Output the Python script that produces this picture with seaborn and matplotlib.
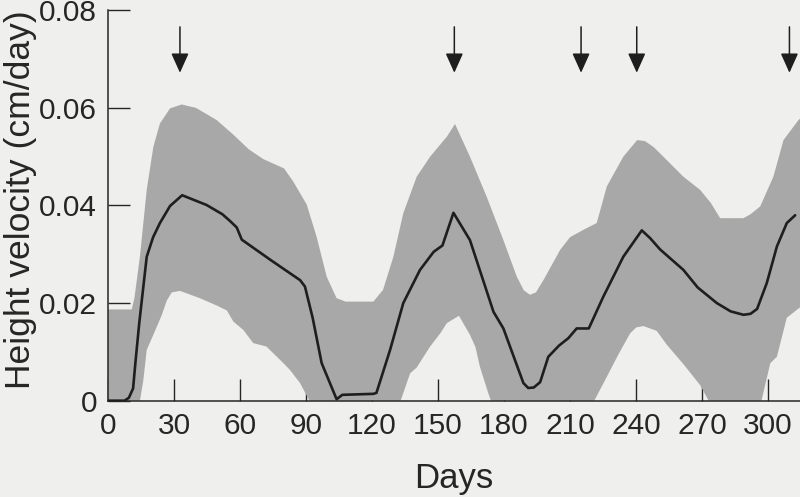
import numpy as np
import pandas as pd
import matplotlib
matplotlib.use("Agg")
import matplotlib.pyplot as plt
import seaborn as sns

# ---- data ----
mean_days = [0, 7.5, 9.5, 11.4, 12.5, 14.2, 17.6, 20.5, 23.6, 28.2, 33.7, 44.8, 52, 55.5,
             58.5, 60.8, 74, 87.3, 89.5, 93, 97.1, 103.9, 106.5, 120.6, 122, 128.2, 134.2,
             141.8, 148, 152, 157, 164.5, 175.2, 179.7, 184, 188.8, 191, 193.5, 196.4,
             200.1, 205, 209.2, 213, 218.5, 225.1, 234.2, 242.6, 246.4, 250.9, 261.5,
             268, 276.7, 283, 288.8, 292, 295, 299.4, 304, 308.5, 312.3]
mean_velocity = [0, 0, 0.0006, 0.0025, 0.008, 0.0159, 0.0295, 0.0335, 0.0364, 0.0399, 0.0421,
                 0.0401, 0.0382, 0.0368, 0.0355, 0.033, 0.0288, 0.0247, 0.0234, 0.017,
                 0.0077, 0.0003, 0.0012, 0.0014, 0.0016, 0.0104, 0.02, 0.0268, 0.0305,
                 0.0318, 0.0385, 0.0329, 0.0182, 0.0148, 0.0095, 0.0036, 0.0026, 0.0027,
                 0.0038, 0.009, 0.0113, 0.0128, 0.0148, 0.0148, 0.0213, 0.0295, 0.0349,
                 0.0333, 0.031, 0.0268, 0.0232, 0.02, 0.0183, 0.0176, 0.0178, 0.0188,
                 0.0241, 0.0316, 0.0364, 0.038]

upper_days = [0, 10.8, 12, 14.5, 17.6, 20.6, 23.6, 28.2, 33.5, 40, 49.4, 57, 64, 70.6, 77,
              80, 84.2, 90.3, 94.8, 99.4, 103.9, 108, 120.6, 125, 129.7, 134.2, 140.3,
              146.4, 154, 157.7, 164.5, 172.1, 179.7, 185.8, 189, 191.8, 194.5, 197.9,
              205.5, 210, 216, 222.1, 226.7, 234.2, 240.5, 244, 247.9, 252.4, 261.5,
              269.1, 274, 278.2, 288.8, 292, 296.4, 302.4, 307, 313.8, 315]
upper_velocity = [0.0187, 0.0187, 0.021, 0.0295, 0.0432, 0.052, 0.0568, 0.0599, 0.0607, 0.06,
                  0.0575, 0.0545, 0.0515, 0.0495, 0.0482, 0.0476, 0.0449, 0.0402, 0.0336,
                  0.0254, 0.021, 0.0203, 0.0203, 0.0227, 0.0295, 0.0384, 0.0459, 0.05,
                  0.0541, 0.0567, 0.05, 0.0418, 0.0329, 0.0254, 0.0226, 0.0217, 0.0222,
                  0.0247, 0.0309, 0.0335, 0.035, 0.0364, 0.0439, 0.05, 0.0534, 0.0532,
                  0.052, 0.05, 0.0459, 0.0432, 0.0405, 0.0374, 0.0374, 0.0382, 0.0398,
                  0.0459, 0.0534, 0.0575, 0.058]

lower_days = [0, 14.5, 16, 17.6, 20.6, 24.4, 26.7, 29, 32.7, 41.8, 49.4, 54, 57, 61.5, 66,
              72, 79.7, 82.7, 87.3, 91.5, 133, 137.3, 140.3, 146.4, 151, 154, 159.5, 164.5,
              167, 169, 172.5, 174, 221, 226.7, 232, 237.3, 240, 243.3, 246.4, 249.4,
              253.9, 261.5, 269.1, 273, 297, 301, 304, 308.5, 315]
lower_velocity = [0, 0, 0.004, 0.0104, 0.0135, 0.0175, 0.0205, 0.0222, 0.0225, 0.021, 0.0195,
                  0.0185, 0.0162, 0.0145, 0.0118, 0.0111, 0.0077, 0.0063, 0.0036, 0, 0,
                  0.0056, 0.0068, 0.0111, 0.0138, 0.0159, 0.0174, 0.0135, 0.011, 0.007,
                  0.002, 0, 0, 0.0049, 0.0095, 0.0138, 0.015, 0.0153, 0.0148, 0.0143,
                  0.0115, 0.0075, 0.0032, 0, 0, 0.0077, 0.009, 0.017, 0.0193]

arrow_days = [32.7, 157.4, 215, 240.3, 309.7]

x_ticks = [0, 30, 60, 90, 120, 150, 180, 210, 240, 270, 300]
y_ticks = [0, 0.02, 0.04, 0.06, 0.08]
y_tick_labels = ["0", "0.02", "0.04", "0.06", "0.08"]

# ---- style ----
PAPER = "#efefed"
INK = "#262626"
BAND = "#a8a8a8"

sns.set_style("ticks")
plt.rcParams["font.family"] = ["Liberation Sans", "DejaVu Sans"]

fig = plt.figure(figsize=(8, 4.97), dpi=100, facecolor=PAPER)
ax = fig.add_axes([0.135, 0.1938, 0.865, 0.7855], facecolor=PAPER)

# shaded band: upper edge forward, lower edge back
band_x = np.concatenate([upper_days, lower_days[::-1]])
band_y = np.concatenate([upper_velocity, lower_velocity[::-1]])
ax.fill(band_x, band_y, color=BAND, lw=0, zorder=1)

df = pd.DataFrame({"Days": mean_days, "Velocity": mean_velocity})
sns.lineplot(data=df, x="Days", y="Velocity", ax=ax, color="#1e1e1e",
             linewidth=1.9, estimator=None, sort=False, zorder=3)

for d in arrow_days:
    ax.annotate("", xy=(d, 0.0672), xytext=(d, 0.0766),
                arrowprops=dict(arrowstyle="-|>,head_length=0.6,head_width=0.27",
                                mutation_scale=20, color="#1e1e1e", lw=1.1,
                                shrinkA=0, shrinkB=0),
                annotation_clip=False)

ax.set_xlim(0, 314.5)
ax.set_ylim(0, 0.08)
ax.set_xticks(x_ticks)
ax.set_yticks(y_ticks)
ax.set_yticklabels(y_tick_labels)

for side in ["top", "right"]:
    ax.spines[side].set_visible(False)
for side in ["left", "bottom"]:
    ax.spines[side].set_color(INK)
    ax.spines[side].set_linewidth(1.1)

ax.tick_params(axis="both", direction="in", length=16, width=1.0, color=INK,
               labelcolor=INK, labelsize=21.5)
ax.tick_params(axis="x", pad=8)
ax.tick_params(axis="y", pad=8)

ax.set_xlabel("Days", fontsize=25, color=INK)
ax.set_ylabel("Height velocity (cm/day)", fontsize=25.5, color=INK)
ax.xaxis.set_label_coords(0.5, -0.158)
ax.yaxis.set_label_coords(-0.103, 0.515)

fig.savefig("out.png", dpi=100, facecolor=PAPER)
